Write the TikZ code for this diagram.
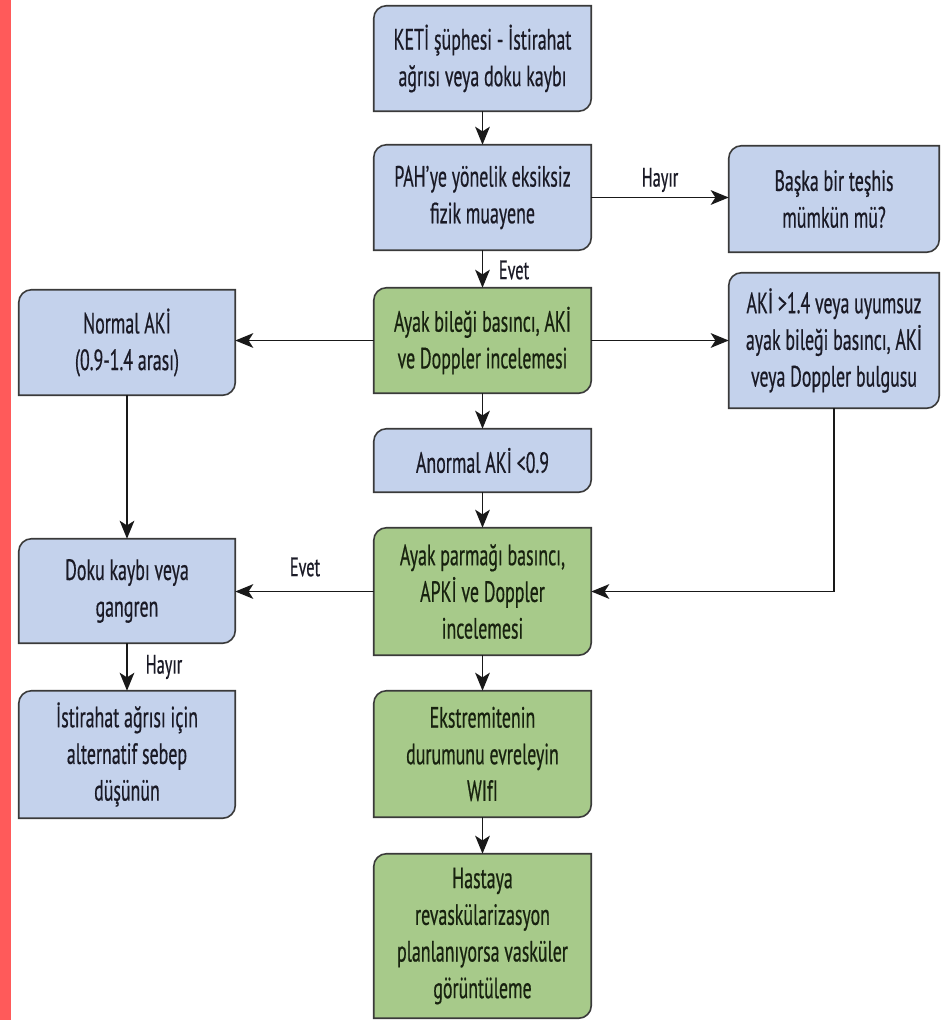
\documentclass[tikz,border=0pt]{standalone}
\usepackage{fontspec}
\setmainfont[FakeStretch=0.61,FakeBold=0.5]{PT Sans}
\usetikzlibrary{arrows.meta,backgrounds,calc}
\definecolor{boxblue}{HTML}{C4D2EC}
\definecolor{boxgreen}{HTML}{A7CA8A}
\definecolor{edgecol}{HTML}{3A3A3A}
\definecolor{redbar}{HTML}{FF5A5A}
\definecolor{txtcol}{HTML}{1A1A26}
\definecolor{txtgreen}{HTML}{18220F}
\newcommand\kshape[2]{%
  \draw[outline,fill=#2] (#1.south west) -- ([yshift=-9.5pt]#1.north west)
    arc[start angle=180,end angle=90,radius=9.5pt] -- (#1.north east)
    -- ([yshift=9.5pt]#1.south east)
    arc[start angle=0,end angle=-90,radius=9.5pt] -- cycle;}
\begin{document}
\begin{tikzpicture}[x=0.75pt,y=0.75pt,
  box/.style={rectangle, draw=none, inner sep=0pt, align=center,
    font=\fontsize{22}{27.5}\selectfont, text=txtcol},
  gbox/.style={box, text=txtgreen},
  sz/.style 2 args={minimum width=#1*0.75pt, minimum height=#2*0.75pt},
  lbl/.style={font=\fontsize{20}{22}\selectfont, text=txtcol, inner sep=0pt},
  arr/.style={-{Stealth[length=13.5pt,width=11pt,inset=3.5pt]}, line width=1.3pt, draw=black!90},
  outline/.style={draw=edgecol, line width=1.2pt}
]
\useasboundingbox (0,0) rectangle (941,-1020);
\fill[redbar] (0,0) rectangle (11,-1020);

\node[box,sz={217}{105}] (n1) at (482.5,-58.5) {KETİ şüphesi - İstirahat\\ağrısı veya doku kaybı};
\node[box,sz={217}{105}] (n2) at (482.5,-197.5) {PAH’ye yönelik eksiksiz\\fizik muayene};
\node[box,sz={210}{106}] (n3) at (834,-199) {Başka bir teşhis\\mümkün mü?};
\node[gbox,sz={217}{105}] (n4) at (482.5,-340.5) {Ayak bileği basıncı, AKİ\\ve Doppler incelemesi};
\node[box,sz={210}{135}] (n5) at (834,-340.5) {AKİ >1.4 veya uyumsuz\\ayak bileği basıncı, AKİ\\veya Doppler bulgusu};
\node[box,sz={216}{105}] (n6) at (127,-342.5) {Normal AKİ\\(0.9-1.4 arası)};
\node[box,sz={217}{63}] (n7) at (482.5,-460.5) {Anormal AKİ <0.9};
\node[gbox,sz={217}{127}] (n8) at (482.5,-591.5) {Ayak parmağı basıncı,\\APKİ ve Doppler\\incelemesi};
\node[box,sz={216}{104}] (n9) at (127,-591) {Doku kaybı veya\\gangren};
\node[box,sz={216}{127}] (n10) at (127,-754.5) {İstirahat ağrısı için\\alternatif sebep\\düşünün};
\node[gbox,sz={217}{126}] (n11) at (482.5,-754) {Ekstremitenin\\durumunu evreleyin\\WIfI};
\node[gbox,sz={217}{164}] (n12) at (482.5,-936) {Hastaya\\revaskülarizasyon\\planlanıyorsa vasküler\\görüntüleme};

\begin{pgfonlayer}{background}
\kshape{n1}{boxblue}
\kshape{n2}{boxblue}
\kshape{n3}{boxblue}
\kshape{n4}{boxgreen}
\kshape{n5}{boxblue}
\kshape{n6}{boxblue}
\kshape{n7}{boxblue}
\kshape{n8}{boxgreen}
\kshape{n9}{boxblue}
\kshape{n10}{boxblue}
\kshape{n11}{boxgreen}
\kshape{n12}{boxgreen}
\end{pgfonlayer}

\draw[arr] (n1) -- (n2);
\draw[arr] (n2.east) -- (n2.east -| n3.west);
\draw[arr] (n2) -- (n4);
\draw[arr] (n4.west) -- (n4.west -| n6.east);
\draw[arr] (n4.east) -- (n4.east -| n5.west);
\draw[arr] (n4) -- (n7);
\draw[arr] (n7) -- (n8);
\draw[arr] (n8.west) -- (n8.west -| n9.east);
\draw[arr] (n5.south) |- (n8.east);
\draw[arr] (n6) -- (n9);
\draw[arr] (n9) -- (n10);
\draw[arr] (n8) -- (n11);
\draw[arr] (n11) -- (n12);

\node[lbl] (l1) at (660,-180) {Hayır};
\node[lbl] (l2) at (514,-270) {Evet};
\node[lbl] (l3) at (305,-567) {Evet};
\node[lbl] (l4) at (164,-667) {Hayır};
\end{tikzpicture}
\end{document}
